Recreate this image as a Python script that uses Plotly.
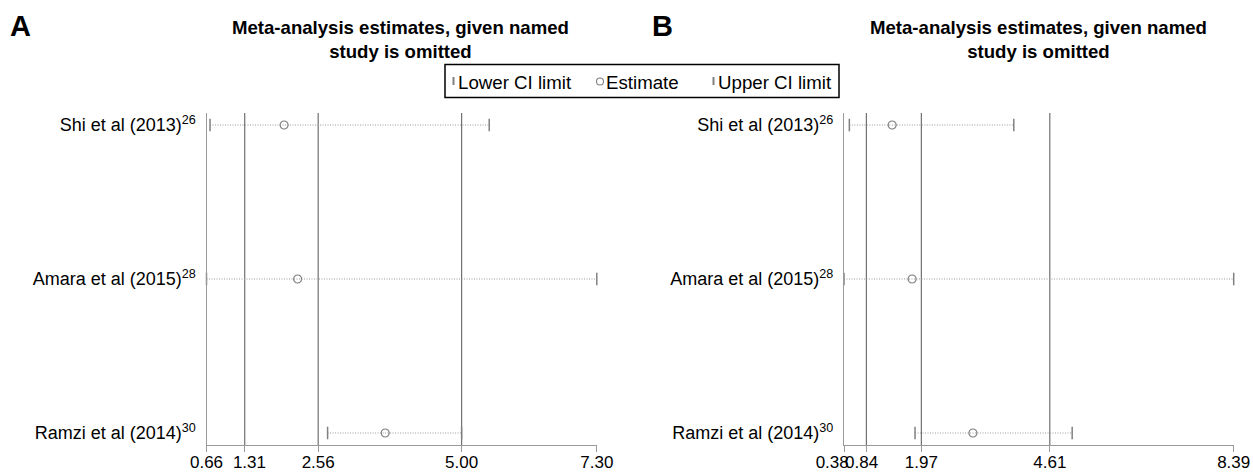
import plotly.graph_objects as go

# Study labels (reference number shown as superscript)
studies = ["Shi et al (2013)", "Amara et al (2015)", "Ramzi et al (2014)"]
refs = ["26", "28", "30"]
y_pos = [3, 2, 1]

# Panel A: pooled estimate with each study left out
a_lower = [0.72, 0.66, 2.72]
a_est = [1.98, 2.21, 3.70]
a_upper = [5.47, 7.30, 5.00]
a_ticks = [0.66, 1.31, 2.56, 5.00, 7.30]
a_ref_lines = [1.31, 2.56, 5.00]

# Panel B
b_lower = [0.49, 0.38, 1.84]
b_est = [1.37, 1.78, 3.03]
b_upper = [3.87, 8.39, 5.07]
b_ticks = [0.38, 0.84, 1.97, 4.61, 8.39]
b_ref_lines = [0.84, 1.97, 4.61]

legend_labels = ["Lower CI limit", "Estimate", "Upper CI limit"]

W, H = 1253, 474
FONT = "Liberation Sans, Arial, sans-serif"
REF_COL = "#707070"
AX_COL = "#9a9a9a"
CI_COL = "#9c9c9c"
MK_COL = "#808080"
NBSP = "\u00a0"

fig = go.Figure()

panels = [
    ("x", "y", a_lower, a_est, a_upper, a_ticks, a_ref_lines),
    ("x2", "y2", b_lower, b_est, b_upper, b_ticks, b_ref_lines),
]

for xa, ya, lo, est, up, ticks, refl in panels:
    # dotted CI segments
    for l, u, y in zip(lo, up, y_pos):
        fig.add_trace(go.Scatter(
            x=[l, u], y=[y, y], mode="lines", xaxis=xa, yaxis=ya,
            line=dict(color=CI_COL, width=1, dash="1px,1.5px"),
            hoverinfo="skip", cliponaxis=False))
    fig.add_trace(go.Scatter(
        x=lo, y=y_pos, mode="markers", name=legend_labels[0], xaxis=xa, yaxis=ya,
        marker=dict(symbol="line-ns", size=9, line=dict(color=MK_COL, width=1.5)),
        cliponaxis=False))
    fig.add_trace(go.Scatter(
        x=est, y=y_pos, mode="markers", name=legend_labels[1], xaxis=xa, yaxis=ya,
        marker=dict(symbol="circle-open", size=8, color=MK_COL, line=dict(width=1.2)),
        cliponaxis=False))
    fig.add_trace(go.Scatter(
        x=up, y=y_pos, mode="markers", name=legend_labels[2], xaxis=xa, yaxis=ya,
        marker=dict(symbol="line-ns", size=9, line=dict(color=MK_COL, width=1.5)),
        cliponaxis=False))
    # vertical lines at pooled estimate and its CI
    for v in refl:
        fig.add_shape(type="line", xref=xa, yref=f"{ya} domain", x0=v, x1=v, y0=0, y1=1,
                      line=dict(color=REF_COL, width=1.2), layer="below")

y_dom = [(H - 445) / H, (H - 113) / H]
ticktext = [f"{s}<sup>{r}</sup>" for s, r in zip(studies, refs)]

# tick labels, padded so that crowded neighbours do not collide
a_ticktext = [f"{t:.2f}" for t in a_ticks]
a_ticktext[1] = NBSP * 2 + a_ticktext[1]
b_ticktext = [f"{t:.2f}" for t in b_ticks]
b_ticktext[0] = b_ticktext[0] + NBSP * 5
b_ticktext[1] = b_ticktext[1] + NBSP * 2


def xaxis(domain, ticks, labels):
    return dict(
        domain=domain, range=[ticks[0], ticks[-1]], tickvals=ticks,
        ticktext=labels, tickangle=0, ticklabelstandoff=-5,
        showline=True, linecolor=AX_COL, linewidth=1.2,
        ticks="outside", ticklen=6, tickcolor=AX_COL, tickwidth=1.2,
        showgrid=False, zeroline=False, automargin=False,
        tickfont=dict(family=FONT, size=17, color="black"))


def yaxis(anchor):
    return dict(
        domain=y_dom, range=[0.922, 3.078], anchor=anchor,
        tickvals=y_pos, ticktext=ticktext, ticks="", ticklabelstandoff=6,
        showline=True, linecolor=AX_COL, linewidth=1.2,
        showgrid=False, zeroline=False, automargin=False,
        tickfont=dict(family=FONT, size=18, color="black"))


fig.update_layout(
    width=W, height=H,
    margin=dict(l=0, r=0, t=0, b=0),
    plot_bgcolor="white", paper_bgcolor="white",
    xaxis=xaxis([206.5 / W, 596.8 / W], a_ticks, a_ticktext),
    yaxis=yaxis("x"),
    xaxis2=dict(**xaxis([844.0 / W, 1233.7 / W], b_ticks, b_ticktext), anchor="y2"),
    yaxis2=yaxis("x2"),
    showlegend=False,
)


def px(x):
    return x / W


def py(y):
    return 1 - y / H


# Legend box with key glyphs
fig.add_shape(type="rect", xref="paper", yref="paper",
              x0=px(445), x1=px(839), y0=py(64.5), y1=py(97.5),
              line=dict(color="black", width=1.5), fillcolor="white")
LEG_Y = 81.5
for kx in (453.5, 713.5):
    fig.add_shape(type="line", xref="paper", yref="paper",
                  x0=px(kx), x1=px(kx), y0=py(LEG_Y - 4.5), y1=py(LEG_Y + 3.5),
                  line=dict(color=MK_COL, width=2))
fig.add_shape(type="circle", xref="paper", yref="paper",
              x0=px(596.5), x1=px(603.5), y0=py(LEG_Y - 3.5), y1=py(LEG_Y + 3.5),
              line=dict(color=MK_COL, width=1.1))
for label, tx in zip(legend_labels, (457, 605, 717)):
    fig.add_annotation(text=label, xref="paper", yref="paper",
                       x=px(tx), y=py(LEG_Y + 1), xanchor="left", yanchor="middle",
                       showarrow=False, xshift=-1,
                       font=dict(family=FONT, size=18.7, color="black"))

title = "Meta-analysis estimates, given named<br>study is omitted"
for cx in (400, 1038):
    fig.add_annotation(text=f"<b>{title}</b>", xref="paper", yref="paper",
                       x=px(cx), y=py(15), xanchor="center", yanchor="top",
                       showarrow=False, align="center",
                       font=dict(family=FONT, size=18.6, color="black"))
for letter, lx in (("A", 8), ("B", 650)):
    fig.add_annotation(text=f"<b>{letter}</b>", xref="paper", yref="paper",
                       x=px(lx), y=py(8), xanchor="left", yanchor="top",
                       showarrow=False, font=dict(family=FONT, size=29, color="black"))

fig.write_html("out.html")
